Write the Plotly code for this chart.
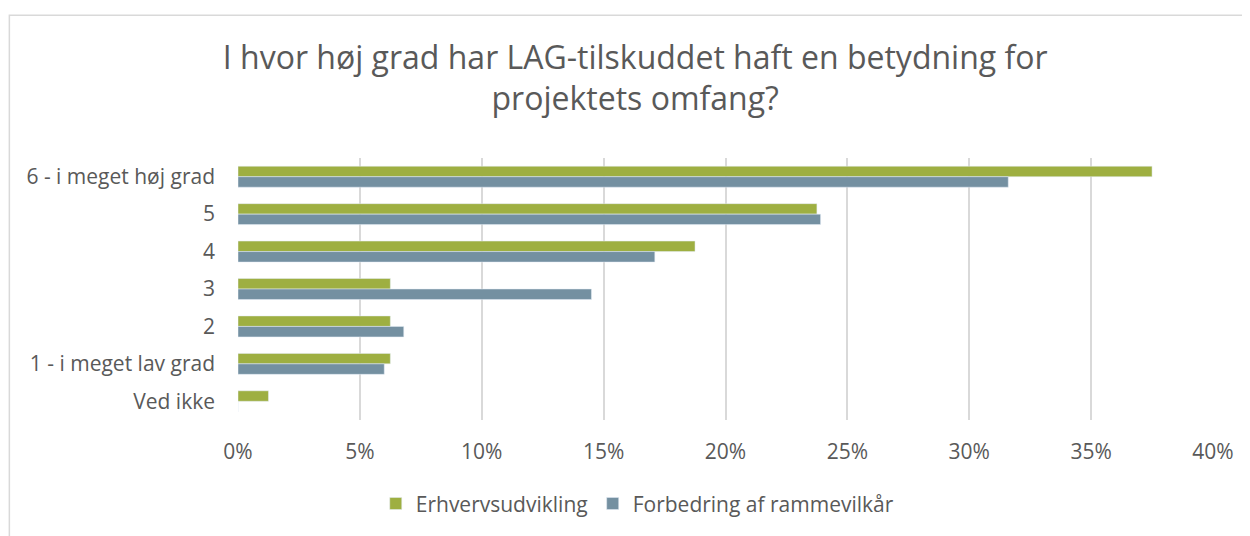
import plotly.graph_objects as go

# survey answers, top to bottom as shown
categories = ["6 - i meget høj grad", "5", "4", "3", "2", "1 - i meget lav grad", "Ved ikke"]
erhverv = [37.5, 23.75, 18.75, 6.25, 6.25, 6.25, 1.25]
rammevilkaar = [31.6, 23.9, 17.1, 14.5, 6.8, 6.0, 0.0]
x_ticks = [0, 5, 10, 15, 20, 25, 30, 35, 40]
x_tick_labels = [f"{t}%" for t in x_ticks]

GREEN = "#9EAF41"
BLUE = "#7490A1"
TEXT = "#595959"
FONT = "Open Sans"

fig = go.Figure()
fig.add_trace(go.Bar(y=categories, x=erhverv, orientation="h", name="Erhvervsudvikling",
                     marker=dict(color=GREEN)))
fig.add_trace(go.Bar(y=categories, x=rammevilkaar, orientation="h", name="Forbedring af rammevilkår",
                     marker=dict(color=BLUE)))

# page body adds 8px margin, so figure is 8px smaller and margins shifted
fig.update_layout(
    width=1242, height=528,
    margin=dict(l=230, r=37, t=150, b=106),
    paper_bgcolor="white", plot_bgcolor="white",
    barmode="group", bargap=0.44, bargroupgap=0,
    font=dict(family=FONT, color=TEXT, size=21),
    title=dict(text="I hvor høj grad har LAG-tilskuddet haft en betydning for<br>projektets omfang?",
               x=0.505, xanchor="center", y=0.885, yanchor="top",
               font=dict(size=32, color=TEXT, family=FONT)),
    legend=dict(orientation="h", x=0.41, xanchor="center", y=-0.32, yanchor="middle",
                font=dict(size=21, color=TEXT), traceorder="normal"),
    showlegend=True,
)
fig.update_xaxes(range=[0, 40], tickvals=x_ticks, ticktext=x_tick_labels,
                 showgrid=True, gridcolor="#D9D9D9", gridwidth=1.5, zeroline=False,
                 showline=False, ticks="", ticklabelstandoff=17)
fig.update_yaxes(autorange="reversed", showgrid=False, showline=False, ticks="",
                 ticklabelstandoff=22)

# light frame round the whole chart
fig.add_shape(type="rect", xref="paper", yref="paper",
              x0=-0.2345, x1=1.034, y0=-0.6, y1=1.545,
              line=dict(color="#D9D9D9", width=1.5), fillcolor="rgba(0,0,0,0)", layer="below")

fig.write_html("out.html")
